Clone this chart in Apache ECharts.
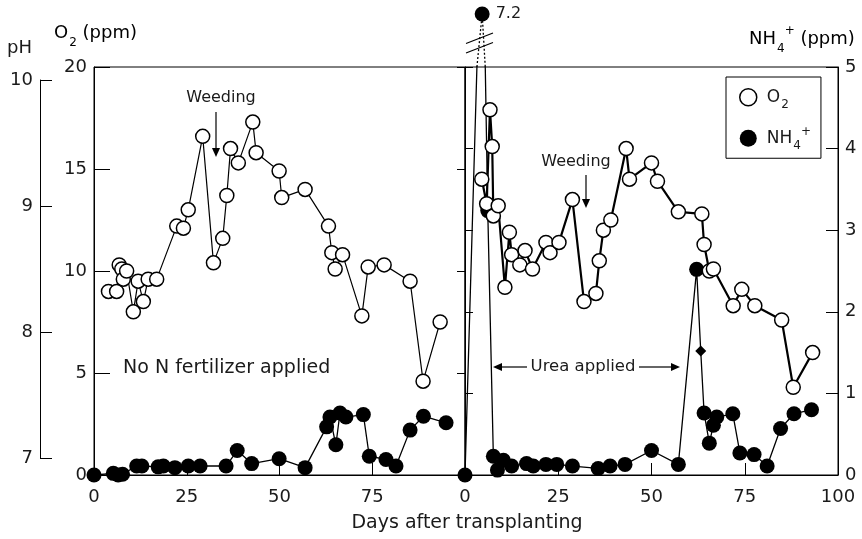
<!DOCTYPE html>
<html>
<head>
<meta charset="utf-8">
<script src="https://cdn.jsdelivr.net/npm/echarts@6/dist/echarts.min.js"></script>
<style>
  html, body { margin: 0; padding: 0; background: #fff; }
  #chart { width: 862px; height: 539px; }
</style>
</head>
<body>
<div id="chart"></div>
<script>
// Floodwater O2 and NH4+ in a rice field, days after transplanting.
// Left panel: no N fertilizer applied. Right panel: urea applied.

const leftO2Days = [3.9, 6.1, 6.8, 7.5, 7.9, 8.8, 10.6, 11.9, 13.3, 14.6, 16.9, 22.3, 24.1, 25.4, 29.3,
  32.2, 34.7, 35.8, 36.8, 38.9, 42.8, 43.7, 49.9, 50.6, 56.9, 63.2, 64.1, 65.0, 67.0, 72.2, 73.9,
  78.2, 85.2, 88.7, 93.3];
const leftO2 = [9.0, 9.0, 10.3, 10.1, 9.6, 10.0, 8.0, 9.5, 8.5, 9.6, 9.6, 12.2, 12.1, 13.0, 16.6,
  10.4, 11.6, 13.7, 16.0, 15.3, 17.3, 15.8, 14.9, 13.6, 14.0, 12.2, 10.9, 10.1, 10.8, 7.8, 10.2,
  10.3, 9.5, 4.6, 7.5];

const leftNH4Days = [0, 5.2, 6.5, 7.7, 11.5, 12.9, 17.3, 18.7, 21.8, 25.4, 28.6, 35.6, 38.6, 42.5,
  49.9, 56.9, 62.7, 63.6, 65.2, 66.3, 67.9, 72.6, 74.2, 78.7, 81.4, 85.2, 88.8, 94.9];
const leftNH4 = [0, 0.02, 0, 0.01, 0.11, 0.11, 0.1, 0.11, 0.09, 0.11, 0.11, 0.11, 0.30, 0.14,
  0.20, 0.09, 0.59, 0.71, 0.37, 0.76, 0.71, 0.74, 0.23, 0.19, 0.11, 0.55, 0.72, 0.64];

const rightO2Days = [4.5, 5.8, 6.7, 7.3, 7.6, 8.9, 10.7, 11.9, 12.5, 14.7, 16.1, 18.1, 21.7, 22.8,
  25.2, 28.8, 31.9, 35.1, 36.0, 37.1, 39.1, 43.2, 44.1, 50.0, 51.6, 57.2, 63.5, 64.1, 65.5, 66.6,
  71.9, 74.2, 77.7, 84.9, 88.0, 93.2];
const rightO2 = [14.5, 13.3, 17.9, 16.1, 12.7, 13.2, 9.2, 11.9, 10.8, 10.3, 11.0, 10.1, 11.4, 10.9,
  11.4, 13.5, 8.5, 8.9, 10.5, 12.0, 12.5, 16.0, 14.5, 15.3, 14.4, 12.9, 12.8, 11.3, 10.0, 10.1,
  8.3, 9.1, 8.3, 7.6, 4.3, 6.0];

const rightNH4Days = [0, 4.6, 6.1, 7.6, 8.7, 10.3, 12.5, 16.5, 18.3, 21.7, 24.6, 28.8, 35.7, 38.9,
  42.9, 50.0, 57.2, 62.1, 63.2, 64.1, 65.5, 66.6, 67.5, 71.8, 73.7, 77.5, 81.0, 84.6, 88.2, 92.9];
const rightNH4 = [0, 7.2, 3.24, 0.23, 0.06, 0.18, 0.11, 0.14, 0.11, 0.13, 0.13, 0.11, 0.08, 0.11,
  0.13, 0.30, 0.13, 2.52, 1.52, 0.76, 0.39, 0.61, 0.71, 0.75, 0.27, 0.25, 0.11, 0.57, 0.75, 0.80];
// sampling day drawn with a diamond marker
const diamondDays = [63.2];

const dayTicks = [0, 25, 50, 75, 100];
const phRange = [7, 10];
const o2Range = [0, 20];
const nh4Range = [0, 5];
const nh4BreakTop = 7.45;

const FONT = 'DejaVu Sans, Verdana, sans-serif';
const INK = '#1a1a1a';

function zip(xs, ys) { return xs.map((x, i) => [x, ys[i]]); }

// NH4+ points above the axis top are shown in a separate strip above the panel
const nh4Max = nh4Range[1];
const rightNH4Data = rightNH4Days.map((d, i) => {
  const v = rightNH4[i];
  const item = { value: [d, v] };
  if (v > nh4Max) item.symbol = 'none';
  if (diamondDays.includes(d)) { item.symbol = 'diamond'; item.symbolSize = 11; }
  return item;
});
const breakData = [];
for (let i = 0; i < rightNH4.length; i++) {
  if (rightNH4[i] > nh4Max) {
    const d0 = rightNH4Days[i - 1], v0 = rightNH4[i - 1];
    const d1 = rightNH4Days[i], v1 = rightNH4[i];
    const d2 = rightNH4Days[i + 1], v2 = rightNH4[i + 1];
    breakData.push([d0 + (d1 - d0) * (nh4Max - v0) / (v1 - v0), nh4Max]);
    breakData.push({ value: [d1, v1], symbol: 'circle', symbolSize: 15,
      label: { show: true, position: 'right', distance: 6, formatter: String(v1),
               fontSize: 16, fontFamily: FONT, color: INK } });
    breakData.push([d1 + (d2 - d1) * (v1 - nh4Max) / (v1 - v2), nh4Max]);
  }
}

const axisLabel = { fontSize: 18, fontFamily: FONT, color: INK };
const blackLine = { show: true, lineStyle: { color: '#000', width: 1 } };

const openCircle = { color: '#fff', borderColor: '#000', borderWidth: 1.5 };
const filledCircle = { color: '#000', borderColor: '#000', borderWidth: 0 };

const rich = {
  b: { fontSize: 18, fontFamily: FONT, color: INK, lineHeight: 24 },
  sub: { fontSize: 12, fontFamily: FONT, color: INK, lineHeight: 24, verticalAlign: 'bottom', padding: [0, 0, -4, 1] },
  sup: { fontSize: 12, fontFamily: FONT, color: INK, lineHeight: 24, verticalAlign: 'top', padding: [-2, 0, 0, 0] }
};
const legendRich = {
  b: { fontSize: 17, fontFamily: FONT, color: INK, lineHeight: 20, padding: [0, 0, 0, 5] },
  sub: { fontSize: 12, fontFamily: FONT, color: INK, lineHeight: 20, verticalAlign: 'bottom', padding: [0, 0, -4, 1] },
  sup: { fontSize: 12, fontFamily: FONT, color: INK, lineHeight: 20, verticalAlign: 'top', padding: [-2, 0, 0, 0] }
};

function arrow(x1, y1, x2, y2) {
  const len = Math.hypot(x2 - x1, y2 - y1);
  const ux = (x2 - x1) / len, uy = (y2 - y1) / len;
  const hl = 9, hw = 4;
  const bx = x2 - ux * hl, by = y2 - uy * hl;
  return [
    { type: 'line', shape: { x1, y1, x2: bx, y2: by }, style: { stroke: '#000', lineWidth: 1.2 } },
    { type: 'polygon', shape: { points: [[x2, y2], [bx - uy * hw, by + ux * hw], [bx + uy * hw, by - ux * hw]] },
      style: { fill: '#000' } }
  ];
}

const chart = echarts.init(document.getElementById('chart'), null, { renderer: 'canvas' });

chart.setOption({
  backgroundColor: '#fff',
  animation: false,
  grid: [
    { left: 40, top: 80, width: 10, height: 378 },
    { left: 94, top: 67, width: 371, height: 408, show: true, borderColor: '#000', borderWidth: 1, backgroundColor: 'transparent' },
    { left: 465, top: 67, width: 373, height: 408, show: true, borderColor: '#000', borderWidth: 1, backgroundColor: 'transparent' },
    { left: 465, top: 8, width: 373, height: 59 }
  ],
  xAxis: [
    { gridIndex: 0, type: 'value', show: false },
    { gridIndex: 1, type: 'value', min: dayTicks[0], max: dayTicks[dayTicks.length - 1], interval: 25,
      axisLine: blackLine, axisTick: { inside: true, length: 12, lineStyle: { color: '#000' } },
      axisLabel: Object.assign({ margin: 13, formatter: v => (v === 100 ? '' : String(v)) }, axisLabel),
      splitLine: { show: false } },
    { gridIndex: 2, type: 'value', min: dayTicks[0], max: dayTicks[dayTicks.length - 1], interval: 25,
      axisLine: blackLine, axisTick: { inside: true, length: 12, lineStyle: { color: '#000' } },
      axisLabel: Object.assign({ margin: 13 }, axisLabel),
      splitLine: { show: false } },
    { gridIndex: 3, type: 'value', min: dayTicks[0], max: dayTicks[dayTicks.length - 1], show: false }
  ],
  yAxis: [
    { gridIndex: 0, type: 'value', min: phRange[0], max: phRange[1], interval: 1, position: 'left',
      axisLine: blackLine, axisTick: { inside: true, length: 12, lineStyle: { color: '#000' } },
      axisLabel: Object.assign({ margin: 7 }, axisLabel), splitLine: { show: false } },
    { gridIndex: 1, type: 'value', min: o2Range[0], max: o2Range[1], interval: 5, position: 'left',
      axisLine: blackLine, axisTick: { inside: true, length: 16, lineStyle: { color: '#000' } },
      axisLabel: Object.assign({ margin: 7 }, axisLabel), splitLine: { show: false } },
    { gridIndex: 1, type: 'value', min: nh4Range[0], max: nh4Range[1], show: false },
    { gridIndex: 2, type: 'value', min: o2Range[0], max: o2Range[1], interval: 5, position: 'left',
      axisLine: blackLine, axisTick: { inside: false, length: 8, lineStyle: { color: '#000' } },
      axisLabel: { show: false }, splitLine: { show: false } },
    { gridIndex: 2, type: 'value', min: nh4Range[0], max: nh4Range[1], interval: 1, position: 'right',
      axisLine: blackLine, axisTick: { inside: true, length: 12, lineStyle: { color: '#000' } },
      axisLabel: Object.assign({ margin: 7 }, axisLabel), splitLine: { show: false } },
    { gridIndex: 2, type: 'value', min: nh4Range[0], max: nh4Range[1], interval: 1, position: 'left',
      axisLine: { show: false }, axisTick: { inside: true, length: 8, lineStyle: { color: '#000' } },
      axisLabel: { show: false }, splitLine: { show: false } },
    { gridIndex: 3, type: 'value', min: nh4Max, max: nh4BreakTop, show: false }
  ],
  legend: {
    data: [
      { name: 'O2', icon: 'circle', itemStyle: openCircle },
      { name: 'NH4+', icon: 'circle', itemStyle: filledCircle }
    ],
    orient: 'vertical', left: 726, top: 77,
    padding: [11, 10, 6, 13], itemGap: 15, itemWidth: 17, itemHeight: 17,
    borderColor: '#000', borderWidth: 1, borderRadius: 0,
    selectedMode: false,
    formatter: n => (n === 'O2' ? '{b|O}{sub|2}   ' : '{b|NH}{sub|4}{sup|+}'),
    textStyle: { rich: legendRich }
  },
  series: [
    { name: 'NH4+', type: 'line', xAxisIndex: 1, yAxisIndex: 2, data: zip(leftNH4Days, leftNH4),
      symbol: 'circle', symbolSize: 15, itemStyle: filledCircle,
      lineStyle: { color: '#000', width: 1.3 }, z: 3 },
    { name: 'O2', type: 'line', xAxisIndex: 1, yAxisIndex: 1, data: zip(leftO2Days, leftO2),
      symbol: 'circle', symbolSize: 14, itemStyle: openCircle,
      lineStyle: { color: '#000', width: 1.2 }, z: 4 },
    { name: 'NH4+', type: 'line', xAxisIndex: 2, yAxisIndex: 4, data: rightNH4Data,
      symbol: 'circle', symbolSize: 15, itemStyle: filledCircle,
      lineStyle: { color: '#000', width: 1.3 }, z: 3, clip: true },
    { name: 'O2', type: 'line', xAxisIndex: 2, yAxisIndex: 3, data: zip(rightO2Days, rightO2),
      symbol: 'circle', symbolSize: 14, itemStyle: openCircle,
      lineStyle: { color: '#000', width: 2.2 }, z: 4 },
    { name: 'NH4+ above axis', type: 'line', xAxisIndex: 3, yAxisIndex: 6, data: breakData,
      symbol: 'none', itemStyle: filledCircle,
      lineStyle: { color: '#000', width: 1.3, type: [2, 2] }, z: 3, clip: false }
  ],
  graphic: [
    { type: 'text', x: 7, y: 48, style: { text: 'pH', fontSize: 18, fontFamily: FONT, fill: INK, verticalAlign: 'middle' } },
    { type: 'text', x: 54, y: 33, style: { text: '{b|O}{sub|2}{b| (ppm)}', rich: rich, verticalAlign: 'middle' } },
    { type: 'text', x: 749, y: 39, style: { text: '{b|NH}{sub|4}{sup|+}{b| (ppm)}', rich: rich, verticalAlign: 'middle' } },
    { type: 'text', x: 467, y: 523, style: { text: 'Days after transplanting', fontSize: 19, fontFamily: FONT, fill: INK, align: 'center', verticalAlign: 'middle' } },
    { type: 'text', x: 221, y: 98, style: { text: 'Weeding', fontSize: 16, fontFamily: FONT, fill: INK, align: 'center', verticalAlign: 'middle' } },
    { type: 'text', x: 576, y: 162, style: { text: 'Weeding', fontSize: 16, fontFamily: FONT, fill: INK, align: 'center', verticalAlign: 'middle' } },
    { type: 'text', x: 123, y: 368, style: { text: 'No N fertilizer applied', fontSize: 19, fontFamily: FONT, fill: INK, verticalAlign: 'middle' } },
    { type: 'text', x: 583, y: 367, style: { text: 'Urea applied', fontSize: 16.5, fontFamily: FONT, fill: INK, align: 'center', verticalAlign: 'middle' } },
    ...arrow(216, 112, 216, 157),
    ...arrow(586, 175, 586, 208),
    ...arrow(527, 367, 493, 367),
    ...arrow(639, 367, 680, 367),
    // axis break marks on the NH4+ spike
    { type: 'line', shape: { x1: 466, y1: 43.5, x2: 493, y2: 33 }, style: { stroke: '#000', lineWidth: 1.2 } },
    { type: 'line', shape: { x1: 466, y1: 53, x2: 493, y2: 42.5 }, style: { stroke: '#000', lineWidth: 1.2 } }
  ]
});
</script>
</body>
</html>
